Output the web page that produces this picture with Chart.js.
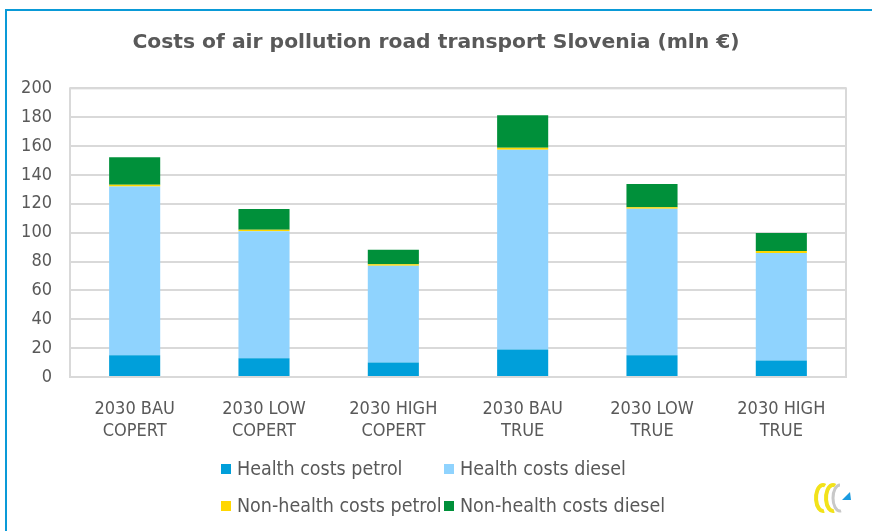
<!DOCTYPE html>
<html><head><meta charset="utf-8">
<script src="https://cdn.jsdelivr.net/npm/chart.js@4/dist/chart.umd.min.js"></script>
<style>
html,body{margin:0;padding:0;background:#fff;}
#wrap{position:relative;width:872px;height:531px;}
</style></head>
<body><div id="wrap"><canvas id="c" width="872" height="531"></canvas></div>
<script>
const categories = [['2030 BAU','COPERT'],['2030 LOW','COPERT'],['2030 HIGH','COPERT'],['2030 BAU','TRUE'],['2030 LOW','TRUE'],['2030 HIGH','TRUE']];
const seriesNames = ['Health costs petrol','Health costs diesel','Non-health costs petrol','Non-health costs diesel'];
const healthPetrol = [15, 13, 10, 19, 15, 11.5];
const healthDiesel = [117, 88, 67, 138.5, 101.5, 74.5];
const nonHealthPetrol = [1.2, 1.1, 1.1, 1.3, 1.1, 1.3];
const nonHealthDiesel = [19, 14.3, 10, 22.5, 16.2, 12.4];
const yTicks = [0,20,40,60,80,100,120,140,160,180,200];
const colors = ['#009fda','#8fd3fe','#ffd700','#00903a'];
const TXT = '#595959';
const FONT = "'DejaVu Sans Condensed','DejaVu Sans',sans-serif";
const TFONT = "'DejaVu Sans',sans-serif";

const frame = {
  id:'frame',
  beforeDraw(chart){
    const c = chart.ctx;
    c.save();
    c.fillStyle='#fff'; c.fillRect(0,0,chart.width,chart.height);
    c.strokeStyle='#0a9ad7'; c.lineWidth=2;
    c.beginPath(); c.moveTo(6,531); c.lineTo(6,10); c.lineTo(872,10); c.stroke();
    c.restore();
  },
  afterDatasetsDraw(chart){
    const c = chart.ctx, a = chart.chartArea;
    c.save();
    c.strokeStyle='#d9d9d9'; c.lineWidth=2;
    c.strokeRect(a.left, a.top, a.right-a.left, a.bottom-a.top);
    // legend
    const pos = [[221,469],[444,469],[221,506],[444,506]];
    c.font = "19.5px " + FONT; c.textBaseline='middle'; c.textAlign='left';
    chart.data.datasets.forEach((ds,i)=>{
      const [x,y]=pos[i];
      c.fillStyle = ds.backgroundColor; c.fillRect(x, y-5, 10, 10);
      c.fillStyle = TXT; c.fillText(ds.label, x+16, y+1);
    });
    // logo
    c.lineWidth=4;
    c.strokeStyle='#f2e21a';
    c.beginPath(); c.ellipse(823,498,7,13,0,Math.PI*0.45,Math.PI*1.6); c.stroke();
    c.beginPath(); c.ellipse(833,498,7,13,0,Math.PI*0.45,Math.PI*1.6); c.stroke();
    c.strokeStyle='#c8c8c8'; c.lineWidth=3;
    c.beginPath(); c.ellipse(840,498,7,13,0,Math.PI*1.5,Math.PI*2.45,true); c.stroke();
    c.fillStyle='#1a9be0';
    c.beginPath(); c.moveTo(850,492); c.lineTo(851,500); c.lineTo(842,500); c.closePath(); c.fill();
    c.restore();
  }
};

new Chart(document.getElementById('c'), {
  type:'bar',
  data:{
    labels: categories,
    datasets:[
      {label:seriesNames[0], data:healthPetrol, backgroundColor:colors[0]},
      {label:seriesNames[1], data:healthDiesel, backgroundColor:colors[1]},
      {label:seriesNames[2], data:nonHealthPetrol, backgroundColor:colors[2]},
      {label:seriesNames[3], data:nonHealthDiesel, backgroundColor:colors[3]}
    ]
  },
  options:{
    responsive:false, animation:false,
    layout:{padding:{left:0,right:0,top:0,bottom:0}},
    datasets:{bar:{barPercentage:0.395, categoryPercentage:1}},
    plugins:{
      legend:{display:false},
      tooltip:{enabled:false},
      title:{display:true, text:'Costs of air pollution road transport Slovenia (mln €)',
        color:TXT, font:{family:TFONT, size:20.3, weight:'bold', lineHeight:1.2}, padding:{top:31,bottom:33}}
    },
    scales:{
      x:{stacked:true, grid:{display:false}, border:{display:false},
        ticks:{color:TXT, font:{family:FONT,size:18}, padding:14, maxRotation:0, autoSkip:false},
        afterFit(s){ s.height = 154; }},
      y:{stacked:true, min:0, max:200, border:{display:false},
        grid:{color:'#d9d9d9', lineWidth:2, drawTicks:false},
        ticks:{stepSize:20, color:TXT, font:{family:FONT,size:18}, padding:18,
          callback:(v)=> yTicks.includes(v) ? String(v) : ''},
        afterFit(s){ s.width = 70; }},
      yRight:{position:'right', display:true, grid:{display:false}, border:{display:false},
        ticks:{display:false}, afterFit(s){ s.width = 26; }}
    }
  },
  plugins:[frame]
});
</script></body></html>
